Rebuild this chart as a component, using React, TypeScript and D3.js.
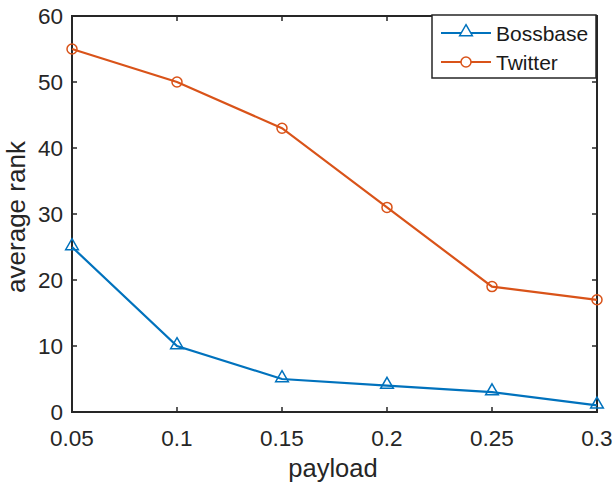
import React, { useEffect, useRef } from "react";
import * as d3 from "d3";

// payload values on the x axis
const payloads = [0.05, 0.1, 0.15, 0.2, 0.25, 0.3];
// average rank per dataset
const bossbase = [25, 10, 5, 4, 3, 1];
const twitter = [55, 50, 43, 31, 19, 17];
const seriesNames = ["Bossbase", "Twitter"];
const xTicks = [0.05, 0.1, 0.15, 0.2, 0.25, 0.3];
const yTicks = [0, 10, 20, 30, 40, 50, 60];

const W = 613;
const H = 486;
const blue = "#0072BD";
const orange = "#D95319";
const font = "'Liberation Sans', Arial, sans-serif";

export default function App() {
  const ref = useRef<SVGSVGElement>(null);

  useEffect(() => {
    const svg = d3.select(ref.current);
    svg.selectAll("*").remove();

    const left = 72, right = 597, top = 16, bottom = 412;
    const x = d3.scaleLinear().domain([0.05, 0.3]).range([left, right]);
    const y = d3.scaleLinear().domain([0, 60]).range([bottom, top]);

    svg.append("rect").attr("width", W).attr("height", H).attr("fill", "white");

    const tl = 5;
    // ticks, inward on all four sides
    xTicks.forEach((t) => {
      svg.append("line").attr("x1", x(t)).attr("x2", x(t)).attr("y1", bottom).attr("y2", bottom - tl)
        .attr("stroke", "#262626").attr("stroke-width", 1.5);
      svg.append("line").attr("x1", x(t)).attr("x2", x(t)).attr("y1", top).attr("y2", top + tl)
        .attr("stroke", "#262626").attr("stroke-width", 1.5);
      svg.append("text").attr("x", x(t)).attr("y", 446)
        .attr("text-anchor", "middle").attr("font-family", font).attr("font-size", 22.5)
        .attr("fill", "#262626").text(String(t));
    });
    yTicks.forEach((t) => {
      svg.append("line").attr("x1", left).attr("x2", left + tl).attr("y1", y(t)).attr("y2", y(t))
        .attr("stroke", "#262626").attr("stroke-width", 1.5);
      svg.append("line").attr("x1", right).attr("x2", right - tl).attr("y1", y(t)).attr("y2", y(t))
        .attr("stroke", "#262626").attr("stroke-width", 1.5);
      svg.append("text").attr("x", left - 9).attr("y", y(t) + 8)
        .attr("text-anchor", "end").attr("font-family", font).attr("font-size", 22.5)
        .attr("fill", "#262626").text(String(t));
    });

    // axis box
    svg.append("rect").attr("x", left).attr("y", top).attr("width", right - left).attr("height", bottom - top)
      .attr("fill", "none").attr("stroke", "#262626").attr("stroke-width", 2);

    // axis labels
    svg.append("text").attr("x", 333).attr("y", 477)
      .attr("text-anchor", "middle").attr("font-family", font).attr("font-size", 25.5)
      .attr("fill", "#262626").text("payload");
    svg.append("text").attr("transform", `translate(25,217) rotate(-90)`)
      .attr("text-anchor", "middle").attr("font-family", font).attr("font-size", 26)
      .attr("fill", "#262626").text("average rank");

    const line = d3.line<number>().x((_, i) => x(payloads[i])).y((d) => y(d));
    const tri = d3.symbol().type(d3.symbolTriangle).size(70);

    const drawSeries = (vals: number[], color: string, marker: string) => {
      svg.append("path").attr("d", line(vals)).attr("fill", "none").attr("stroke", color).attr("stroke-width", 2.2);
      vals.forEach((v, i) => {
        if (marker === "tri") {
          svg.append("path").attr("d", tri()).attr("transform", `translate(${x(payloads[i])},${y(v) - 1})`)
            .attr("fill", "none").attr("stroke", color).attr("stroke-width", 1.5);
        } else {
          svg.append("circle").attr("cx", x(payloads[i])).attr("cy", y(v)).attr("r", 5)
            .attr("fill", "none").attr("stroke", color).attr("stroke-width", 1.5);
        }
      });
    };
    drawSeries(bossbase, blue, "tri");
    drawSeries(twitter, orange, "circ");

    // legend
    const lg = svg.append("g");
    lg.append("rect").attr("x", 432).attr("y", 15).attr("width", 164).attr("height", 63)
      .attr("fill", "white").attr("stroke", "#262626").attr("stroke-width", 1.5);
    [blue, orange].forEach((c, i) => {
      const ly = 33 + i * 29;
      lg.append("line").attr("x1", 441).attr("x2", 491).attr("y1", ly).attr("y2", ly)
        .attr("stroke", c).attr("stroke-width", 2.2);
      if (i === 0) {
        lg.append("path").attr("d", tri()).attr("transform", `translate(466,${ly - 1})`)
          .attr("fill", "white").attr("stroke", c).attr("stroke-width", 1.5);
      } else {
        lg.append("circle").attr("cx", 466).attr("cy", ly).attr("r", 5)
          .attr("fill", "white").attr("stroke", c).attr("stroke-width", 1.5);
      }
      lg.append("text").attr("x", 496).attr("y", ly + 8).attr("font-family", font).attr("font-size", 21)
        .attr("fill", "#1a1a1a").text(seriesNames[i]);
    });
  }, []);

  return (
    <svg ref={ref} width={W} height={H} style={{ position: "absolute", left: 0, top: 0, display: "block" }} />
  );
}
